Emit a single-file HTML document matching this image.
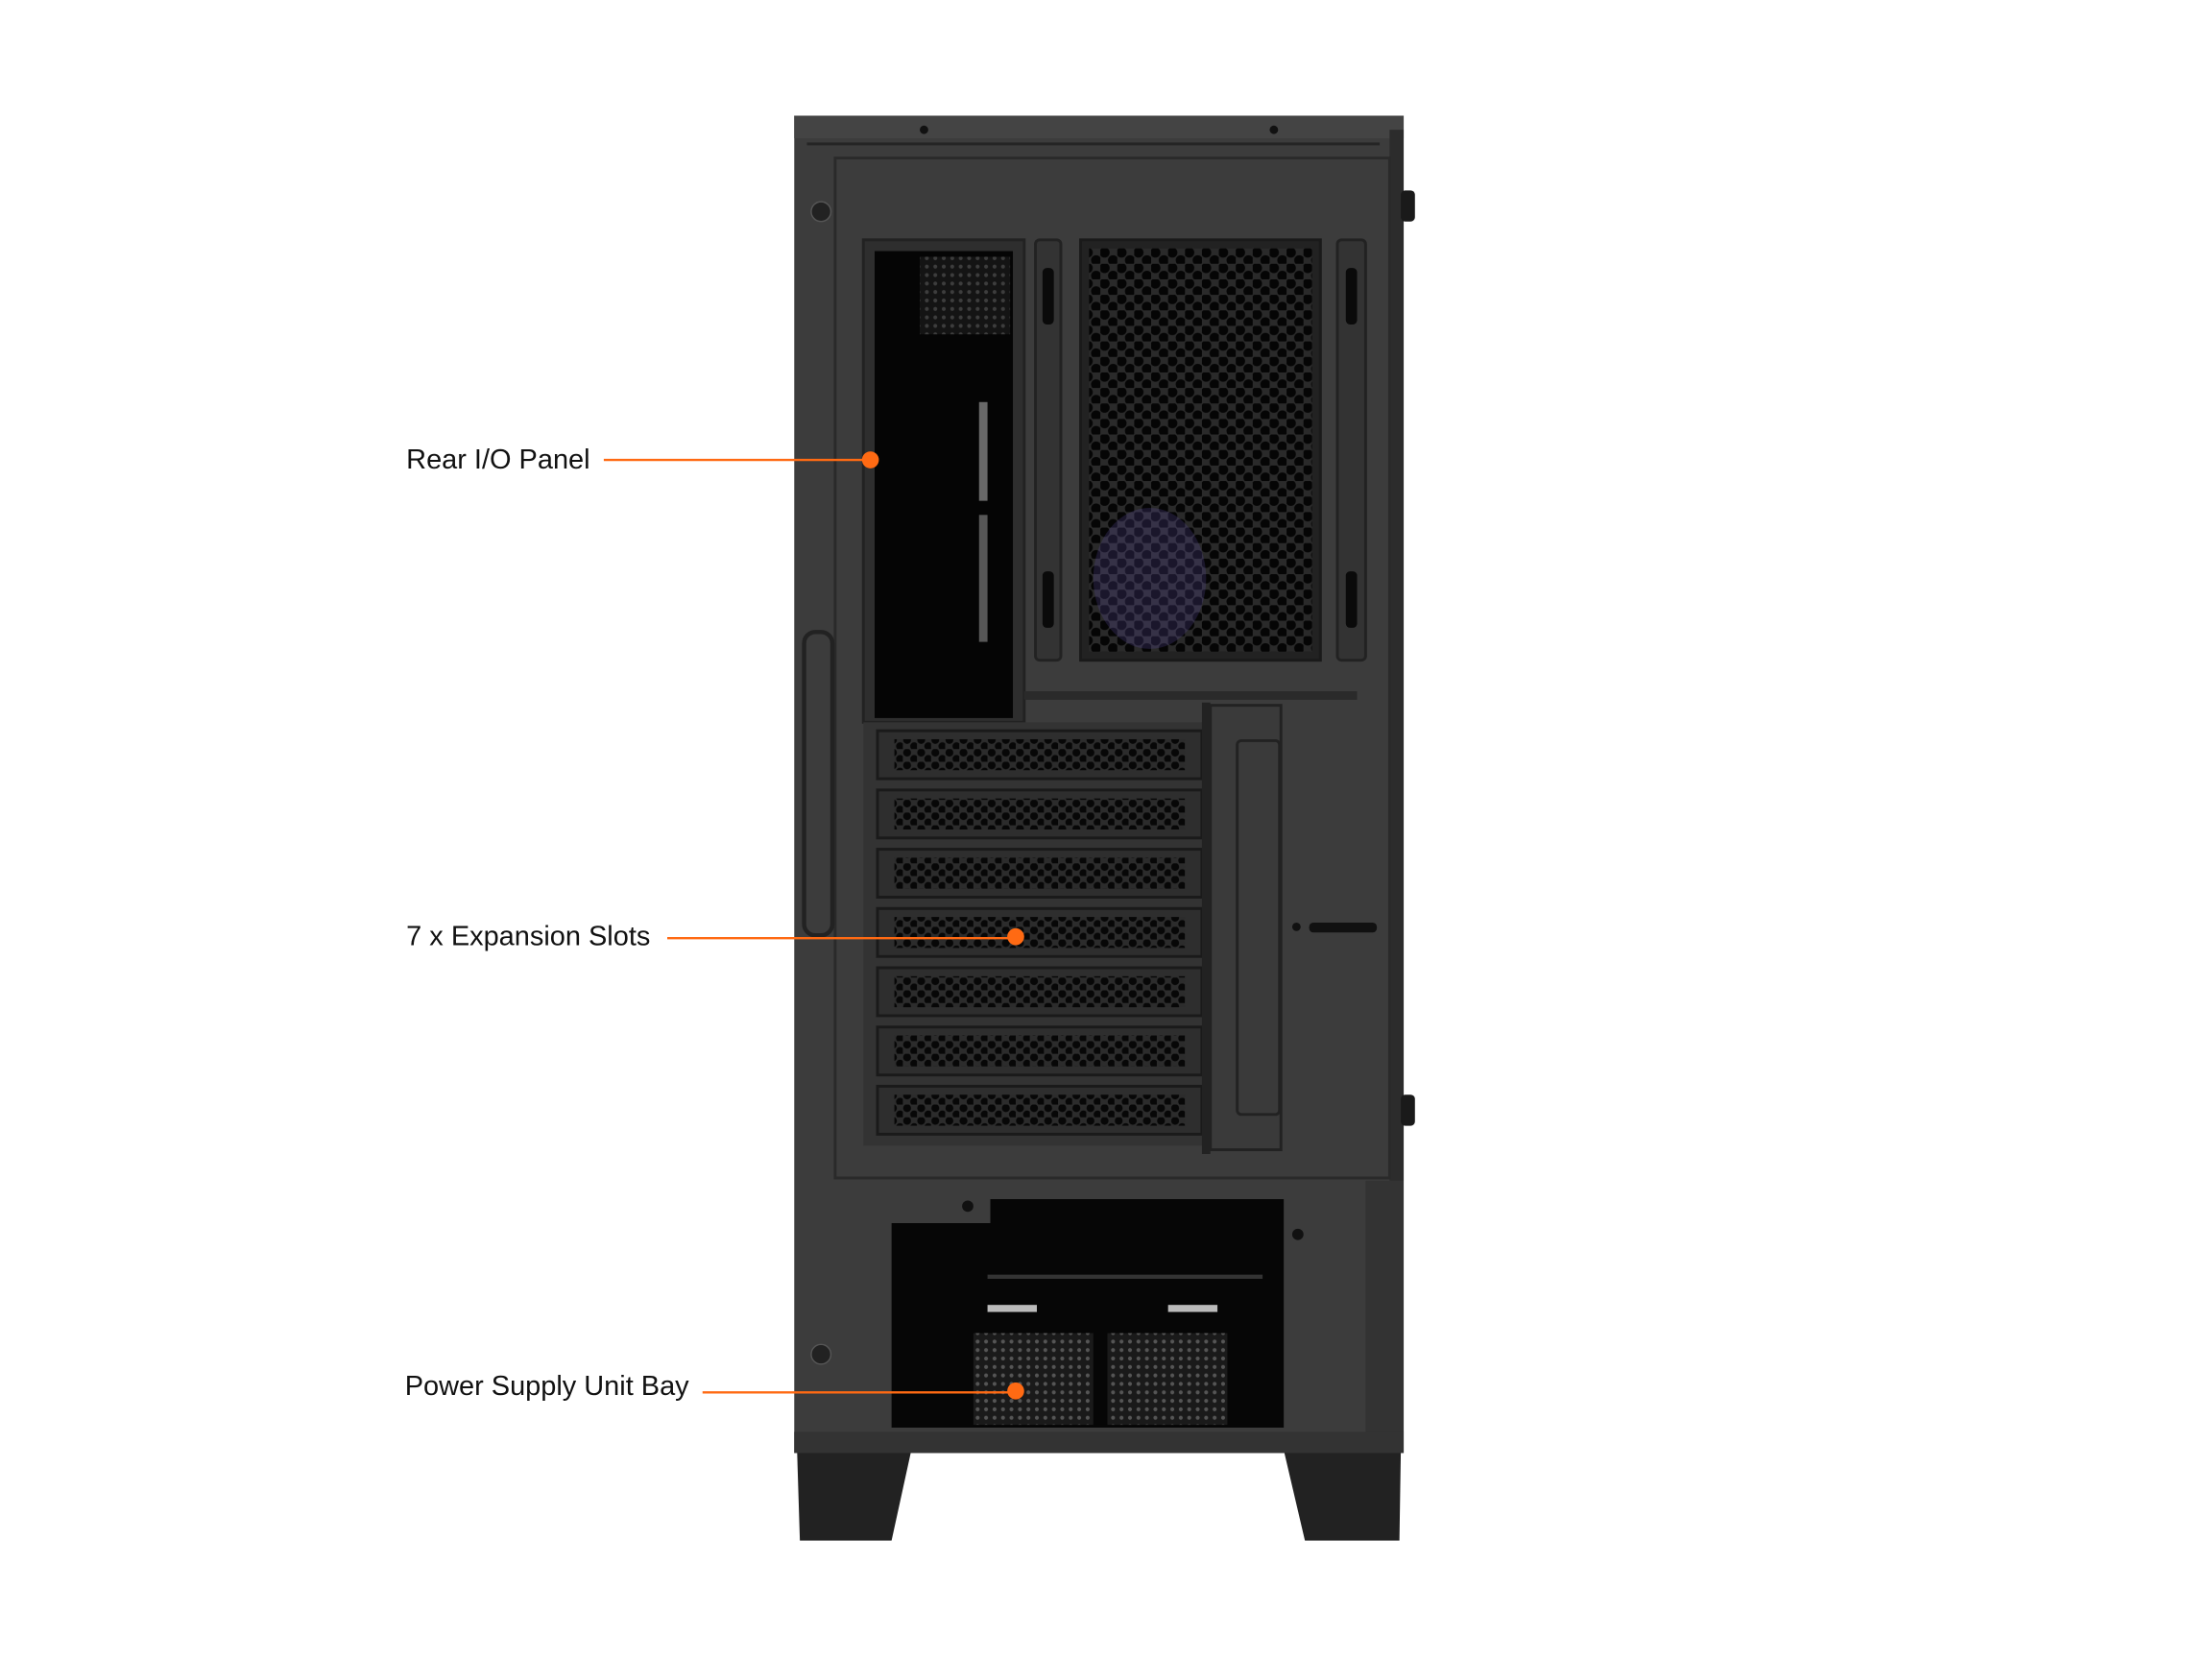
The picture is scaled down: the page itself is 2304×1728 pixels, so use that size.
<!DOCTYPE html>
<html><head><meta charset="utf-8"><style>
html,body{margin:0;padding:0;background:#fff;}
svg{display:block;}
</style></head><body>
<svg width="2304" height="1728" viewBox="0 0 1568 1176" xmlns="http://www.w3.org/2000/svg">
<defs>
<pattern id="hex" width="12" height="11" patternUnits="userSpaceOnUse">
<rect width="12" height="11" fill="#2a2a2a"/>
<circle cx="3" cy="3" r="3.6" fill="#050505"/>
<circle cx="9" cy="8.5" r="3.6" fill="#050505"/>
</pattern>
<pattern id="dots" width="10" height="9" patternUnits="userSpaceOnUse">
<rect width="10" height="9" fill="#2c2c2c"/>
<circle cx="3" cy="2.5" r="2.8" fill="#070707"/>
<circle cx="8" cy="7" r="2.8" fill="#070707"/>
</pattern>
<pattern id="psu" width="6" height="6" patternUnits="userSpaceOnUse">
<rect width="6" height="6" fill="#1a1a1a"/>
<circle cx="3" cy="3" r="1.4" fill="#555"/>
</pattern>
</defs>
<rect width="1568" height="1176" fill="#fff"/>
<path d="M565,1028 L646,1028 L632,1092 L567,1092 Z" fill="#222"/>
<path d="M910,1028 L993,1028 L992,1092 L925,1092 Z" fill="#222"/>
<rect x="563" y="82" width="432" height="948" fill="#3c3c3c"/>
<rect x="563" y="82" width="432" height="16" fill="#444"/>
<line x1="572" y1="102" x2="978" y2="102" stroke="#252525" stroke-width="2"/>
<rect x="985" y="92" width="10" height="745" fill="#2c2c2c"/>
<rect x="968" y="837" width="27" height="193" fill="#333"/>
<rect x="563" y="1015" width="432" height="15" fill="#333"/>
<rect x="592" y="112" width="393" height="723" fill="none" stroke="#2a2a2a" stroke-width="2"/>
<rect x="570" y="448" width="20" height="215" rx="8" fill="none" stroke="#222" stroke-width="3"/>
<circle cx="582" cy="150" r="7" fill="#222" stroke="#555"/>
<circle cx="582" cy="960" r="7" fill="#222" stroke="#555"/>
<circle cx="655" cy="92" r="3" fill="#111"/><circle cx="903" cy="92" r="3" fill="#111"/>
<rect x="993" y="135" width="10" height="22" rx="3" fill="#1a1a1a"/>
<rect x="993" y="776" width="10" height="22" rx="3" fill="#1a1a1a"/>
<rect x="612" y="170" width="114" height="342" fill="#2e2e2e" stroke="#222" stroke-width="2"/>
<rect x="620" y="178" width="98" height="331" fill="#050505"/>
<rect x="652" y="182" width="64" height="55" fill="url(#psu)" opacity=".7"/>
<rect x="694" y="285" width="6" height="70" fill="#aaa" opacity=".6"/>
<rect x="694" y="365" width="6" height="90" fill="#aaa" opacity=".5"/>
<path d="M726,490 L962,490 L962,496 L726,496 Z" fill="#2a2a2a"/>
<rect x="734" y="170" width="18" height="298" rx="3" fill="#333" stroke="#222" stroke-width="2"/>
<rect x="739" y="190" width="8" height="40" rx="3" fill="#0a0a0a"/>
<rect x="739" y="405" width="8" height="40" rx="3" fill="#0a0a0a"/>
<rect x="948" y="170" width="20" height="298" rx="3" fill="#333" stroke="#222" stroke-width="2"/>
<rect x="954" y="190" width="8" height="40" rx="3" fill="#0a0a0a"/>
<rect x="954" y="405" width="8" height="40" rx="3" fill="#0a0a0a"/>
<rect x="766" y="170" width="170" height="298" fill="#222" stroke="#1a1a1a" stroke-width="2"/>
<rect x="772" y="176" width="158" height="286" fill="url(#hex)"/>
<ellipse cx="815" cy="410" rx="40" ry="50" fill="#5a4aa0" opacity=".25"/>
<rect x="612" y="512" width="240" height="300" fill="#333"/>
<g>
<rect x="622" y="518" width="230" height="34" fill="#2e2e2e" stroke="#1a1a1a" stroke-width="2"/><rect x="634" y="524" width="206" height="22" fill="url(#dots)"/>
<rect x="622" y="560" width="230" height="34" fill="#2e2e2e" stroke="#1a1a1a" stroke-width="2"/><rect x="634" y="566" width="206" height="22" fill="url(#dots)"/>
<rect x="622" y="602" width="230" height="34" fill="#2e2e2e" stroke="#1a1a1a" stroke-width="2"/><rect x="634" y="608" width="206" height="22" fill="url(#dots)"/>
<rect x="622" y="644" width="230" height="34" fill="#2e2e2e" stroke="#1a1a1a" stroke-width="2"/><rect x="634" y="650" width="206" height="22" fill="url(#dots)"/>
<rect x="622" y="686" width="230" height="34" fill="#2e2e2e" stroke="#1a1a1a" stroke-width="2"/><rect x="634" y="692" width="206" height="22" fill="url(#dots)"/>
<rect x="622" y="728" width="230" height="34" fill="#2e2e2e" stroke="#1a1a1a" stroke-width="2"/><rect x="634" y="734" width="206" height="22" fill="url(#dots)"/>
<rect x="622" y="770" width="230" height="34" fill="#2e2e2e" stroke="#1a1a1a" stroke-width="2"/><rect x="634" y="776" width="206" height="22" fill="url(#dots)"/>
</g>
<rect x="852" y="498" width="6" height="320" fill="#222"/>
<rect x="858" y="500" width="50" height="315" fill="#3a3a3a" stroke="#222" stroke-width="2"/>
<rect x="877" y="525" width="30" height="265" rx="3" fill="none" stroke="#222" stroke-width="2"/>
<rect x="928" y="654" width="48" height="7" rx="3" fill="#111"/>
<circle cx="919" cy="657" r="3" fill="#111"/>
<path d="M632,867 L702,867 L702,850 L910,850 L910,1012 L632,1012 Z" fill="#060606"/>
<rect x="690" y="945" width="85" height="65" fill="url(#psu)"/>
<rect x="785" y="945" width="85" height="65" fill="url(#psu)"/>
<rect x="700" y="925" width="35" height="5" fill="#bbb"/>
<rect x="828" y="925" width="35" height="5" fill="#bbb"/>
<line x1="700" y1="905" x2="895" y2="905" stroke="#333" stroke-width="3"/>
<circle cx="686" cy="855" r="4" fill="#111"/><circle cx="920" cy="875" r="4" fill="#111"/>
<g fill="#ff6a13" stroke="#ff6a13">
<line x1="428" y1="326" x2="617" y2="326" stroke-width="1.6"/>
<circle cx="617" cy="326" r="6" stroke="none"/>
<line x1="473" y1="665" x2="720" y2="665" stroke-width="1.6"/>
<circle cx="720" cy="664" r="6" stroke="none"/>
<line x1="498" y1="987" x2="720" y2="987" stroke-width="1.6"/>
<circle cx="720" cy="986" r="6" stroke="none"/>
</g>
<g font-family="Liberation Sans, Arial, sans-serif" font-size="19.7" fill="#111">
<text x="288" y="332">Rear I/O Panel</text>
<text x="288" y="670">7 x Expansion Slots</text>
<text x="287" y="989">Power Supply Unit Bay</text>
</g>
</svg>
</body></html>
